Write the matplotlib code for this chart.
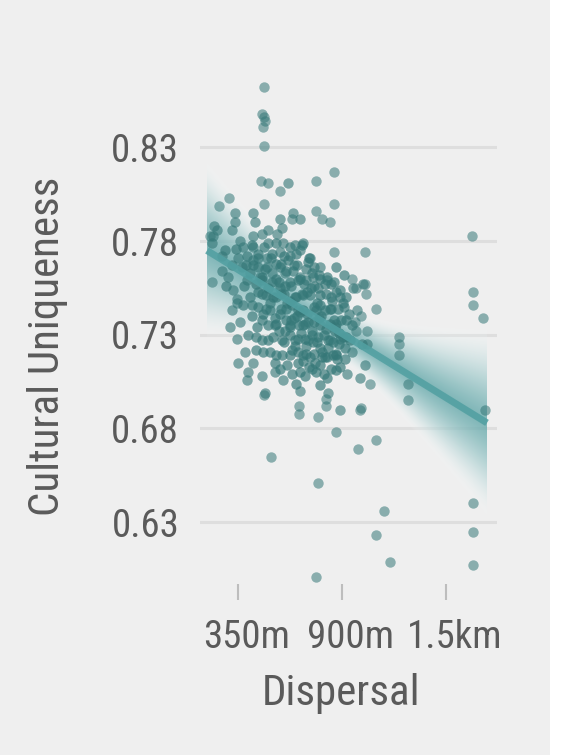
import numpy as np
import matplotlib
matplotlib.use("Agg")
import matplotlib.pyplot as plt
import matplotlib.transforms as mtransforms
from matplotlib import font_manager
from matplotlib.patches import Rectangle
from matplotlib.colors import to_rgb

# --- data (dispersal in metres, uniqueness) ---
outer_x = [
    488, 477, 488, 493, 482, 488, 472, 509, 572, 763,
    858, 302, 249, 488, 858, 763, 794, 837, 636, 1022,
    858, 1588, 1022, 1027, 1080, 1593, 1593, 1646, 1001, 1202,
    1202, 1202, 1048, 1249, 1001, 1080, 985, 1657, 1593, 1122,
    1080, 1593, 1154, 1593, 525, 773, 763, 868, 995, 773,
    488, 673, 673, 816, 816, 212, 202, 1249, 1032, 953,
    974, 969, 974]
outer_y = [
    0.862, 0.848, 0.846, 0.844, 0.841, 0.831, 0.812, 0.811, 0.807, 0.812,
    0.817, 0.803, 0.799, 0.800, 0.800, 0.796, 0.792, 0.790, 0.792, 0.774,
    0.774, 0.783, 0.757, 0.752, 0.744, 0.753, 0.746, 0.739, 0.740, 0.729,
    0.725, 0.719, 0.704, 0.695, 0.691, 0.674, 0.669, 0.690, 0.640, 0.636,
    0.623, 0.625, 0.609, 0.607, 0.665, 0.651, 0.601, 0.678, 0.690, 0.686,
    0.698, 0.692, 0.688, 0.692, 0.696, 0.758, 0.783, 0.704, 0.732, 0.760,
    0.755, 0.737, 0.732]

fringe_x = [
    350, 403, 398, 429, 477, 546, 493, 588, 678, 826,
    890, 927, 995, 318, 345, 361, 308, 345, 429, 334,
    223, 239, 218, 212, 334, 318, 440, 572, 583, 556,
    509, 477, 429, 361, 678, 641, 615, 694, 651, 678,
    588, 509, 429, 376, 350, 318, 371, 429, 503, 572,
    625, 731, 784, 958, 1011, 821, 747, 678, 599, 530,
    466, 398, 324, 345, 265, 265, 297, 387, 979, 1006,
    953, 1022, 1032]
fringe_y = [
    0.715, 0.710, 0.706, 0.715, 0.708, 0.710, 0.699, 0.706, 0.700, 0.699,
    0.690, 0.709, 0.707, 0.743, 0.747, 0.737, 0.734, 0.728, 0.795, 0.795,
    0.788, 0.786, 0.783, 0.779, 0.790, 0.786, 0.790, 0.792, 0.787, 0.784,
    0.786, 0.784, 0.783, 0.780, 0.792, 0.795, 0.811, 0.779, 0.778, 0.775,
    0.779, 0.779, 0.777, 0.777, 0.771, 0.767, 0.766, 0.770, 0.771, 0.774,
    0.772, 0.771, 0.766, 0.755, 0.757, 0.759, 0.761, 0.761, 0.763, 0.763,
    0.761, 0.759, 0.754, 0.749, 0.764, 0.772, 0.761, 0.721, 0.743, 0.725,
    0.721, 0.714, 0.725]

core_x = [
    392, 456, 551, 662, 720, 868, 911, 382, 445, 509,
    567, 630, 699, 773, 842, 890, 287, 413, 477, 535,
    593, 657, 715, 784, 847, 921, 376, 456, 519, 577,
    636, 694, 752, 810, 879, 937, 424, 482, 546, 604,
    662, 720, 778, 837, 895, 953, 451, 509, 567, 625,
    683, 741, 805, 863, 921, 403, 477, 535, 593, 651,
    710, 768, 826, 884, 445, 519, 583, 636, 694, 752,
    810, 868, 916, 546, 609, 667, 726, 784, 842, 890,
    636, 704, 763, 821, 657, 784]
core_y = [
    0.767, 0.766, 0.768, 0.767, 0.769, 0.766, 0.762, 0.756, 0.757, 0.755,
    0.758, 0.756, 0.757, 0.755, 0.757, 0.754, 0.756, 0.750, 0.752, 0.750,
    0.752, 0.750, 0.753, 0.751, 0.748, 0.750, 0.746, 0.745, 0.747, 0.744,
    0.746, 0.743, 0.745, 0.743, 0.744, 0.741, 0.740, 0.741, 0.739, 0.738,
    0.740, 0.737, 0.739, 0.736, 0.738, 0.735, 0.734, 0.735, 0.732, 0.735,
    0.731, 0.732, 0.730, 0.732, 0.729, 0.730, 0.727, 0.729, 0.726, 0.727,
    0.724, 0.726, 0.723, 0.725, 0.722, 0.721, 0.719, 0.722, 0.719, 0.720,
    0.718, 0.720, 0.717, 0.715, 0.714, 0.715, 0.713, 0.714, 0.712, 0.713,
    0.709, 0.708, 0.710, 0.707, 0.704, 0.703]

core2_x = [
    413, 477, 604, 678, 741, 821, 456, 572, 689, 752,
    868, 424, 498, 609, 667, 784, 842, 911, 477, 551,
    630, 694, 752, 868, 921, 445, 509, 625, 704, 773,
    837, 905, 482, 551, 667, 731, 794, 853, 572, 678,
    741, 805, 868, 281, 339, 456, 530, 615]
core2_y = [
    0.763, 0.761, 0.764, 0.760, 0.763, 0.761, 0.753, 0.755, 0.752, 0.756,
    0.753, 0.746, 0.744, 0.747, 0.743, 0.746, 0.744, 0.745, 0.738, 0.736,
    0.738, 0.735, 0.737, 0.736, 0.738, 0.729, 0.727, 0.730, 0.728, 0.729,
    0.727, 0.729, 0.721, 0.719, 0.721, 0.718, 0.721, 0.719, 0.712, 0.710,
    0.712, 0.709, 0.711, 0.775, 0.776, 0.771, 0.773, 0.770]

core3_x = [
    424, 488, 551, 625, 689, 398, 456, 525, 593, 657,
    726, 429, 503, 577, 646, 752, 477, 551, 625, 710,
    784, 858, 498, 577, 651, 731, 816, 890, 519, 604,
    678, 763, 837, 546, 625, 704, 784, 863, 583, 667,
    747, 826, 890, 625, 710, 794, 868]
core3_y = [
    0.778, 0.777, 0.779, 0.777, 0.778, 0.772, 0.773, 0.771, 0.772, 0.773,
    0.771, 0.767, 0.766, 0.768, 0.767, 0.766, 0.759, 0.760, 0.758, 0.759,
    0.760, 0.758, 0.751, 0.752, 0.750, 0.751, 0.752, 0.750, 0.743, 0.744,
    0.742, 0.743, 0.744, 0.735, 0.734, 0.736, 0.735, 0.734, 0.727, 0.728,
    0.726, 0.727, 0.728, 0.719, 0.720, 0.718, 0.719]

dense_x = [
    493, 572, 641, 710, 778, 530, 599, 667, 736, 810,
    551, 625, 694, 768, 842, 905, 572, 646, 715, 789,
    858, 599, 673, 741, 816, 884, 651, 720, 784, 853,
    694, 757, 821, 874, 916, 942]
dense_y = [
    0.765, 0.766, 0.764, 0.765, 0.762, 0.758, 0.756, 0.759, 0.755, 0.757,
    0.750, 0.748, 0.751, 0.747, 0.750, 0.747, 0.741, 0.739, 0.741, 0.740,
    0.738, 0.732, 0.735, 0.730, 0.733, 0.731, 0.724, 0.727, 0.723, 0.726,
    0.716, 0.715, 0.718, 0.717, 0.723, 0.727]

# fitted line and its uncertainty
fit_x = [186, 1667]
fit_y = [0.775, 0.683]
band_center_x = 900
band_halfwidth_min = 0.016
band_slope = 6.4e-5

xticks = [350, 900, 1450]
xtick_labels = ["350m", "900m", "1.5km"]
yticks = [0.63, 0.68, 0.73, 0.78, 0.83]
ytick_labels = ["0.63", "0.68", "0.73", "0.78", "0.83"]

# --- font ---
names = {f.name for f in font_manager.fontManager.ttflist}
family = "DejaVu Sans"
for fam in ["Roboto Condensed", "Liberation Sans Narrow", "Roboto"]:
    if fam in names:
        family = fam
        break
plt.rcParams["font.family"] = [family, "DejaVu Sans"]

bg = "#efefef"
txt = "#5a5a5a"
teal = "#52a0a2"
pt_color = "#357878"

fig = plt.figure(figsize=(5.77, 7.55), dpi=100, facecolor=bg)
fig.patches.append(Rectangle((550 / 577, 0), 1, 1, transform=fig.transFigure,
                             facecolor="white", edgecolor="none", zorder=0))
ax = fig.add_axes([200 / 577, 1 - 584 / 755, 297 / 577, 504 / 755])
ax.set_facecolor(bg)
ax.set_xlim(149, 1720)
ax.set_ylim(0.597, 0.866)

for yv in yticks:
    ax.axhline(yv, color="#dedede", lw=2.2, zorder=0.5)

# gradient uncertainty band
slope = (fit_y[1] - fit_y[0]) / (fit_x[1] - fit_x[0])
gx = np.linspace(fit_x[0], fit_x[1], 300)
gy = np.linspace(0.60, 0.86, 500)
GX, GY = np.meshgrid(gx, gy)
mu = fit_y[0] + slope * (GX - fit_x[0])
hw = np.sqrt(band_halfwidth_min ** 2 + (band_slope * (GX - band_center_x)) ** 2)
t = np.clip(np.abs(GY - mu) / hw, 0, 1)
w = t ** 1.1
rgb = np.array(to_rgb("#62a7a9"))
img = np.zeros(GX.shape + (4,))
for i in range(3):
    img[..., i] = rgb[i] * (1 - w) + 1.0 * w
img[..., 3] = 0.8 * (1 - t ** 2.5)
ax.imshow(img, extent=[fit_x[0], fit_x[1], gy[0], gy[-1]], origin="lower",
          aspect="auto", interpolation="bilinear", zorder=1)

# points
groups = [(outer_x, outer_y, 0.55), (fringe_x, fringe_y, 0.62),
          (core_x, core_y, 0.68), (core2_x, core2_y, 0.68),
          (core3_x, core3_y, 0.68), (dense_x, dense_y, 0.68)]
for xs, ys, a in groups:
    ax.scatter(xs, ys, s=56, color=pt_color, alpha=a, linewidths=0, zorder=2)

ax.plot(fit_x, fit_y, color=teal, lw=5, alpha=0.88, solid_capstyle="butt", zorder=3)

for s in ax.spines.values():
    s.set_visible(False)
ax.set_xticks(xticks)
ax.set_xticklabels(xtick_labels)
ax.set_yticks(yticks)
ax.set_yticklabels(ytick_labels)
ax.tick_params(axis="x", length=11.5, width=1.5, color="#bdbdbd", pad=14,
               labelsize=28, labelcolor=txt)
ax.tick_params(axis="y", length=0, pad=15, labelsize=28, labelcolor=txt)
shift = mtransforms.ScaledTranslation(0.09, 0, fig.dpi_scale_trans)
for lab in ax.get_xticklabels():
    lab.set_transform(lab.get_transform() + shift)

fig.text(48 / 577, 1 - 346 / 755, "Cultural Uniqueness", rotation=90,
         ha="center", va="center", fontsize=31, color=txt)
fig.text(341 / 577, 1 - 693 / 755, "Dispersal", ha="center", va="center",
         fontsize=31, color=txt)

fig.savefig("out.png", dpi=100, facecolor=bg)
